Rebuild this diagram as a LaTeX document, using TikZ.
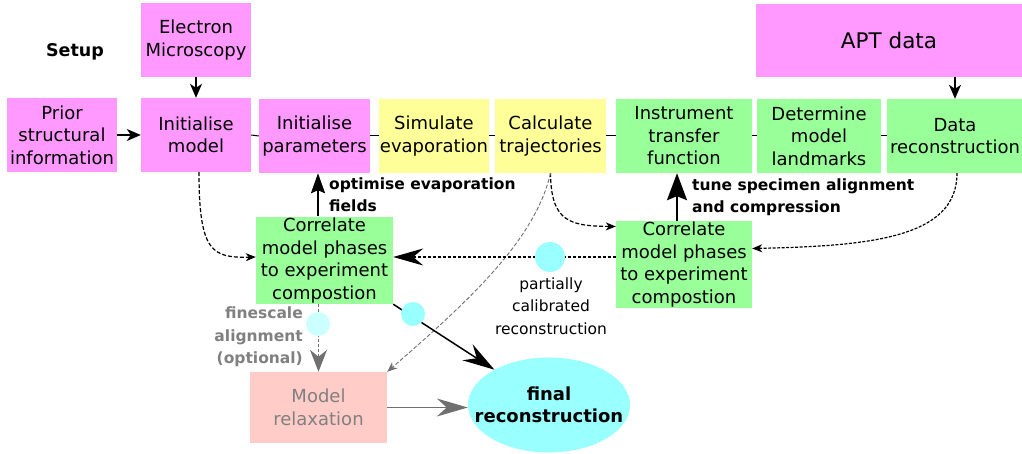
\documentclass[tikz,border=0pt]{standalone}
\usepackage{fontspec}
\setmainfont{DejaVu Sans}
\usetikzlibrary{arrows.meta,shapes.geometric}
\definecolor{pinkbox}{HTML}{FF99FF}
\definecolor{yellowbox}{HTML}{FFFF99}
\definecolor{greenbox}{HTML}{99FF99}
\definecolor{cyanbox}{HTML}{99FFFF}
\definecolor{lightcyanbox}{HTML}{CCFFFF}
\definecolor{salmonbox}{HTML}{FFCCC8}
\definecolor{grayline}{HTML}{707070}
\definecolor{graytext}{HTML}{808080}
\begin{document}
\begin{tikzpicture}[x=1pt,y=-1pt,
  box/.style={inner sep=0pt, align=center, font=\fontsize{18}{22.5}\selectfont},
  pinkb/.style={box, fill=pinkbox},
  yellowb/.style={box, fill=yellowbox},
  greenb/.style={box, fill=greenbox},
  lbl/.style={inner sep=0pt, font=\fontsize{15.5}{21.5}\selectfont\bfseries},
  smalllbl/.style={inner sep=0pt, align=center, font=\fontsize{15.5}{22.5}\selectfont},
  dot/.style={circle, inner sep=0pt, fill=cyanbox},
  link/.style={line width=1pt, black},
  smallarrow/.style={line width=1.5pt, -{Stealth[length=14pt,width=12pt,inset=4pt]}},
  dasharrow/.style={line width=1.2pt, dash pattern=on 4pt off 2pt, -{Stealth[length=10pt,width=8pt,inset=3pt]}},
  bigtip/.style={-{Stealth[length=30pt,width=17pt,inset=10pt]}},
]
\useasboundingbox (0,0) rectangle (1022,454);

% setup label
\node[inner sep=0pt, font=\fontsize{17.5}{21}\selectfont\bfseries] (setup) at (75,52) {Setup};

% top row
\node[pinkb, minimum width=110pt, minimum height=74pt] (em) at (196,40) {Electron\\Microscopy};
\node[pinkb, minimum width=266pt, minimum height=73pt, font=\fontsize{21.5}{26}\selectfont] (apt) at (889,40.5) {APT data};

% main row
\node[pinkb, minimum width=110pt, minimum height=74pt] (prior) at (62,135) {Prior\\structural\\information};
\node[pinkb, minimum width=110pt, minimum height=74pt] (im) at (196,135) {Initialise\\model};
\node[pinkb, minimum width=111pt, minimum height=74pt] (ip) at (314.5,136) {Initialise\\parameters};
\node[yellowb, minimum width=110pt, minimum height=74pt] (se) at (434,136) {Simulate\\evaporation};
\node[yellowb, minimum width=111pt, minimum height=74pt] (ct) at (550.5,136) {Calculate\\trajectories};
\node[greenb, minimum width=136pt, minimum height=74pt] (itf) at (684,136) {Instrument\\transfer\\function};
\node[greenb, minimum width=124pt, minimum height=74pt] (dml) at (819,136) {Determine\\model\\landmarks};
\node[greenb, minimum width=136pt, minimum height=74pt] (dr) at (955,136) {Data\\reconstruction};

% lower boxes
\node[greenb, minimum width=137pt, minimum height=87pt] (cl) at (324.5,260.5) {Correlate\\model phases\\to experiment\\compostion};
\node[greenb, minimum width=136pt, minimum height=87pt] (cr) at (684,264.5) {Correlate\\model phases\\to experiment\\compostion};
\node[box, fill=salmonbox, text=graytext, minimum width=137pt, minimum height=71pt] (mr) at (318.5,407.5) {Model\\relaxation};
\node[ellipse, fill=cyanbox, inner sep=0pt, minimum width=162pt, minimum height=95pt] (fr) at (549,405) {};
\node[inner sep=0pt, align=center, font=\fontsize{18}{22.5}\selectfont\bfseries] (frtext) at (fr) {final\\reconstruction};

% short links in main row
\draw[link] (im.east) -- (ip.west);
\draw[link] (ip.east) -- (se.west);
\draw[link] (se.east) -- (ct.west);
\draw[link] (ct.east) -- (itf.west);
\draw[link] (itf.east) -- (dml.west);
\draw[link] (dml.east) -- (dr.west);

% solid input arrows
\draw[smallarrow] (em.south) -- (im.north);
\draw[smallarrow] (prior.east) -- (im.west);
\draw[smallarrow] (apt.south -| dr.north) -- (dr.north);

% circles (coordinates for lines)
\coordinate (c1pos) at (550,257);

% dashed curves
\draw[dasharrow] ([xshift=3pt]im.south) .. controls (199,252) and (212,258) .. (cl.west |- c1pos);
\draw[dasharrow] (ct.south) .. controls (551,222) and (570,226) .. ([yshift=38pt]cr.west);
\draw[dasharrow, dash pattern=on 3pt off 1.5pt] ([xshift=2pt]dr.south) .. controls (957,238) and (870,246) .. ([yshift=16pt]cr.east);

% gray thin dashed curve
\draw[grayline, line width=0.9pt, dash pattern=on 4pt off 2pt, -{Stealth[length=10pt,width=8pt,inset=3pt]}] (ct.south) .. controls (535,240) and (470,300) .. (mr.north east);

% partial reconstruction dashed line
\draw[black, line width=1.2pt, dash pattern=on 3pt off 2pt, bigtip] (cr.west |- c1pos) -- (cl.east |- c1pos);

% thick upward arrows
\draw[line width=2pt, -{Stealth[length=20pt,width=14pt,inset=3pt]}] (318,216) coordinate (oa) -- (oa |- ip.south);
\draw[line width=2pt, -{Stealth[length=27pt,width=20pt,inset=4pt]}] ([xshift=-7pt]cr.north) -- ([xshift=-7pt]itf.south);

% finescale
\draw[grayline, line width=1.2pt, dash pattern=on 3pt off 2pt, -{Stealth[length=22pt,width=17pt,inset=7pt]}] (cl.south -| mr.north) -- (mr.north);

% to final
\draw[black, line width=1.5pt, -{Stealth[length=32pt,width=19pt,inset=11pt]}] (cl.south east) -- (fr);
\draw[grayline, line width=1.5pt, -{Stealth[length=31pt,width=18pt,inset=10pt]}] (mr.east) -- (fr.west |- mr.east);

% circles on top
\node[dot, minimum size=30pt] (c1) at (c1pos) {};
\node[dot, minimum size=24pt] (c2) at (413,314) {};
\node[dot, fill=lightcyanbox, minimum size=24pt] (c3) at (318,324) {};

% labels
\node[lbl, anchor=west, align=left] (optl) at (329,194.5) {optimise evaporation\\fields};
\node[lbl, anchor=west, align=left] (tunel) at (692,197) {tune specimen alignment\\and compression};
\node[lbl, anchor=east, align=right, text=graytext, font=\fontsize{15.5}{22.5}\selectfont\bfseries] (finel) at (303,337) {finescale\\alignment\\(optional)};
\node[smalllbl] (partl) at (551,306) {partially\\calibrated\\reconstruction};
\end{tikzpicture}
\end{document}
